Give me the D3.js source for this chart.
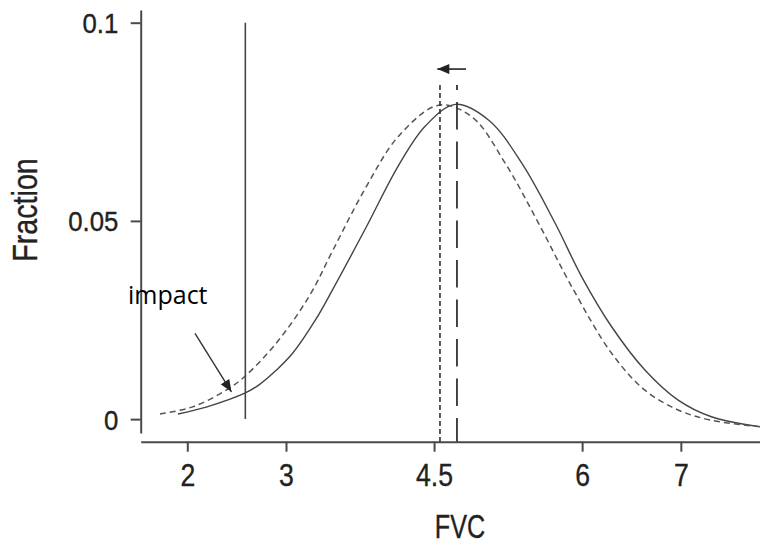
<!DOCTYPE html>
<meta charset="utf-8">
<style>
    body { margin: 0; background: #fff; }
    .tick text, .axis-title { font-family: "Liberation Sans", Arial, sans-serif; fill: #222; stroke: #222; stroke-width: 0.35px; }
</style>
<svg width="760" height="545"></svg>
<script src="https://d3js.org/d3.v7.min.js"></script>
<script>

// curves (FVC, fraction)
var fvcSolid  = [1.905, 2.2, 2.588, 2.73, 2.9, 3.067, 3.303, 3.471, 3.808, 4.145, 4.414, 4.717, 5.054, 5.39, 5.727, 5.996, 6.299, 6.636, 6.973, 7.31, 7.8];
var fracSolid = [0.0013, 0.0031, 0.0066, 0.0087, 0.0123, 0.0166, 0.0252, 0.0326, 0.0482, 0.0642, 0.0740, 0.0794, 0.0754, 0.0645, 0.0494, 0.0359, 0.0233, 0.0124, 0.0048, 0.0006, -0.0019];

var fvcDashed  = [1.723, 2.054, 2.394, 2.579, 2.899, 3.235, 3.471, 3.808, 4.145, 4.549, 4.885, 5.222, 5.559, 5.895, 6.299, 6.636, 6.973, 7.31, 7.8];
var fracDashed = [0.0013, 0.0031, 0.0073, 0.0107, 0.0191, 0.0310, 0.0424, 0.0584, 0.0715, 0.0792, 0.0762, 0.0645, 0.0494, 0.0334, 0.0166, 0.0073, 0.0023, -0.0003, -0.0019];

var xTicks = [2, 3, 4.5, 6, 7];
var xTickLabels = ["2", "3", "4.5", "6", "7"];
var yTicks = [0, 0.05, 0.1];
var yTickLabels = ["0", "0.05", "0.1"];

var cutoff = 2.588;          // solid vertical line
var meanAfter = 4.56;        // short dashed line
var meanBefore = 4.732;      // long dashed line
var shiftArrow = [4.824, 4.533];
var shiftArrowY = 0.0883;
var impactArrow = [[2.078, 0.0216], [2.447, 0.0069]];

var svg = d3.select("svg");

var x = d3.scaleLinear()
    .domain([1.528, 7.802])
    .range([140.7, 760]);

var y = d3.scaleLinear()
    .domain([-0.0035, 0.1032])
    .range([433, 10]);

var defs = svg.append("defs");
defs.append("marker")
    .attr("id", "head")
    .attr("viewBox", "0 0 12 10")
    .attr("refX", 12)
    .attr("refY", 5)
    .attr("markerUnits", "userSpaceOnUse")
    .attr("markerWidth", 13)
    .attr("markerHeight", 10)
    .attr("orient", "auto")
    .append("path")
    .attr("d", "M0,0L12,5L0,10Z")
    .attr("fill", "#222");

// axes (labels squeezed to look like a condensed face)
var ySqueeze = 0.92, xSqueeze = 0.86;

var yAxis = svg.append("g")
    .attr("transform", "translate(140.7,0)")
    .call(d3.axisLeft(y).tickValues(yTicks).tickSize(10).tickSizeOuter(0)
        .tickFormat(function (d, i) { return yTickLabels[i]; }));
yAxis.selectAll("text")
    .style("font-size", "28px")
    .attr("x", -22.4 / ySqueeze)
    .attr("dy", "0.36em")
    .attr("transform", "scale(" + ySqueeze + ",1)");

var xAxis = svg.append("g")
    .attr("transform", "translate(0,441.7)")
    .call(d3.axisBottom(x).tickValues(xTicks).tickSize(10).tickSizeOuter(0)
        .tickFormat(function (d, i) { return xTickLabels[i]; }));
xAxis.selectAll("text")
    .style("font-size", "31px")
    .attr("y", 44)
    .attr("dy", 0)
    .attr("transform", "scale(" + xSqueeze + ",1)");

svg.selectAll(".domain, .tick line")
    .attr("stroke", "#4a4a4a")
    .attr("stroke-width", 2);

svg.append("text")
    .attr("class", "axis-title")
    .attr("transform", "translate(37,210) rotate(-90) scale(0.82,1)")
    .attr("text-anchor", "middle")
    .style("font-size", "35px")
    .text("Fraction");

svg.append("text")
    .attr("class", "axis-title")
    .attr("transform", "translate(460,538) scale(0.74,1)")
    .attr("text-anchor", "middle")
    .style("font-size", "34px")
    .text("FVC");

// the two distributions
var line = d3.line()
    .x(function (d) { return x(d[0]); })
    .y(function (d) { return y(d[1]); })
    .curve(d3.curveCatmullRom);

svg.append("path")
    .datum(d3.zip(fvcSolid, fracSolid))
    .attr("d", line)
    .attr("fill", "none")
    .attr("stroke", "#444")
    .attr("stroke-width", 1.4);

svg.append("path")
    .datum(d3.zip(fvcDashed, fracDashed))
    .attr("d", line)
    .attr("fill", "none")
    .attr("stroke", "#555")
    .attr("stroke-width", 1.5)
    .attr("stroke-dasharray", "6,4");

// vertical lines
svg.append("line")
    .attr("x1", x(cutoff)).attr("x2", x(cutoff))
    .attr("y1", y(0)).attr("y2", y(0.1))
    .attr("stroke", "#444")
    .attr("stroke-width", 1.6);

svg.append("line")
    .attr("x1", x(meanAfter)).attr("x2", x(meanAfter))
    .attr("y1", y(0.0843)).attr("y2", y(-0.0057))
    .attr("stroke", "#333")
    .attr("stroke-width", 1.6)
    .attr("stroke-dasharray", "5,3");

svg.append("line")
    .attr("x1", x(meanBefore)).attr("x2", x(meanBefore))
    .attr("y1", y(0.0843)).attr("y2", y(-0.0057))
    .attr("stroke", "#333")
    .attr("stroke-width", 1.8)
    .attr("stroke-dasharray", "27.5,12")
    .attr("stroke-dashoffset", 22.5);

// shift arrow on top
svg.append("line")
    .attr("x1", x(shiftArrow[0])).attr("x2", x(shiftArrow[1]))
    .attr("y1", y(shiftArrowY)).attr("y2", y(shiftArrowY))
    .attr("stroke", "#222")
    .attr("stroke-width", 1.6)
    .attr("marker-end", "url(#head)");

// impact note
svg.append("text")
    .attr("x", 128)
    .attr("y", 304)
    .style("font-family", "'Open Sans', sans-serif")
    .style("font-size", "25px")
    .style("fill", "#000")
    .text("impact");

svg.append("line")
    .attr("x1", x(impactArrow[0][0])).attr("y1", y(impactArrow[0][1]))
    .attr("x2", x(impactArrow[1][0])).attr("y2", y(impactArrow[1][1]))
    .attr("stroke", "#333")
    .attr("stroke-width", 1.4)
    .attr("marker-end", "url(#head)");

</script>
